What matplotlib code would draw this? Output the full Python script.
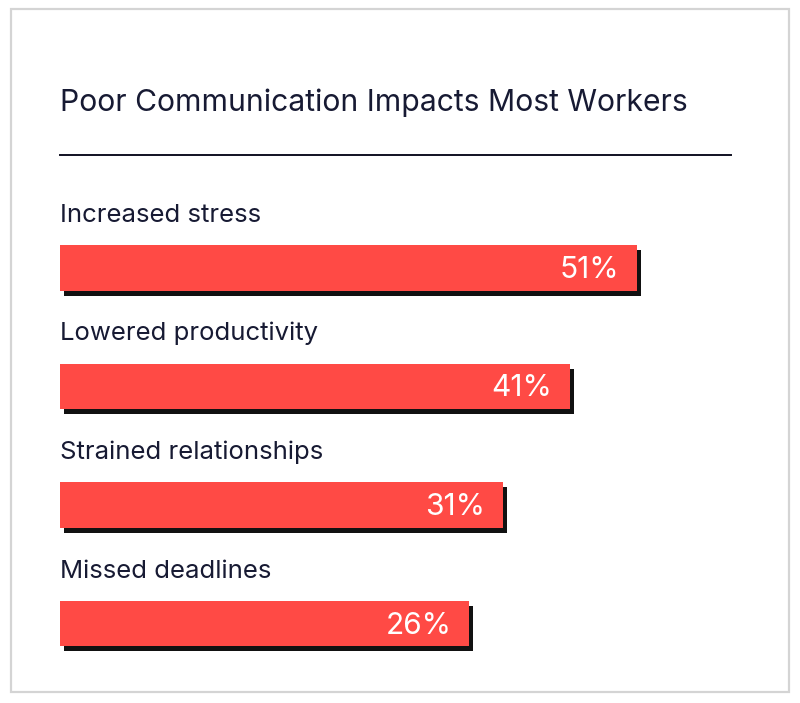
import matplotlib
matplotlib.use("Agg")
import matplotlib.pyplot as plt
import matplotlib.patheffects as pe
from matplotlib.patches import Rectangle
from matplotlib.lines import Line2D

plt.rcParams['font.family'] = ['Inter', 'DejaVu Sans']

# data
categories = ['Increased stress', 'Lowered productivity', 'Strained relationships', 'Missed deadlines']
values = [51, 41, 31, 26]
value_labels = ['51%', '41%', '31%', '26%']
title = 'Poor Communication Impacts Most Workers'

BASE = -35  # bars start before zero in the original
BAR_COLOR = '#ff4a45'
TEXT_COLOR = '#171a33'

W, H = 800, 703
fig = plt.figure(figsize=(W / 100, H / 100), dpi=100)
fig.patch.set_facecolor('white')

# card border
fig.patches.append(Rectangle((11 / W, 1 - 692 / H), 778 / W, 683 / H,
                             transform=fig.transFigure, fill=False,
                             edgecolor='#d4d4d4', linewidth=1.6))

fig.text(60 / W, 1 - 111 / H, title, fontsize=21.7, color=TEXT_COLOR,
         ha='left', va='baseline')
fig.lines.append(Line2D([60 / W, 731 / W], [1 - 155 / H] * 2,
                        transform=fig.transFigure, color='#111122', linewidth=1.4))

ax = fig.add_axes([60 / W, 1 - 682.75 / H, 671 / W, 474 / H])
ax.set_xlim(BASE, BASE + 100)
ax.set_ylim(len(categories) - 0.5, -0.5)
ax.axis('off')

ypos = list(range(len(categories)))
widths = [v - BASE for v in values]
bars = ax.barh(ypos, widths, left=BASE, height=0.388, color=BAR_COLOR, zorder=3)
for b in bars:
    b.set_path_effects([pe.SimplePatchShadow(offset=(2.9, -3.6), shadow_rgbFace='#111111', alpha=1.0),
                        pe.Normal()])

for i, (cat, v, lab) in enumerate(zip(categories, values, value_labels)):
    ax.annotate(cat, xy=(BASE, i), xytext=(0, 46), textcoords='offset pixels',
                ha='left', va='baseline', fontsize=18.5, color=TEXT_COLOR)
    ax.annotate(lab, xy=(v, i), xytext=(-18, -10), textcoords='offset pixels',
                ha='right', va='baseline', fontsize=21.5, color='white', zorder=5)

fig.savefig('out.png', dpi=100, facecolor='white')
